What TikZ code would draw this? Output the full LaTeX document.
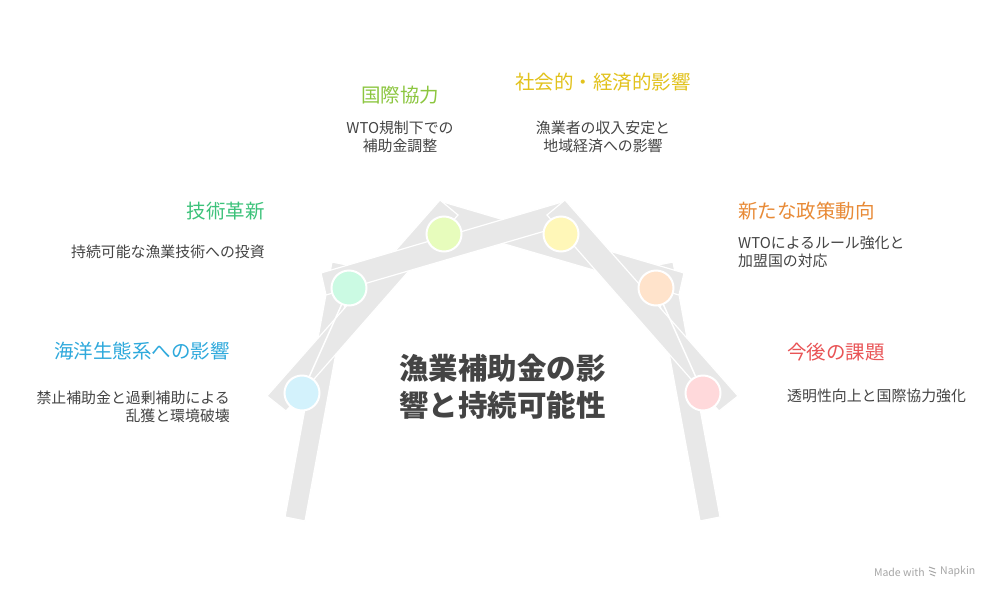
\documentclass[tikz,border=0pt]{standalone}
\usepackage{fontspec}
\setmainfont{Noto Sans CJK JP}
\definecolor{bandgray}{HTML}{E8E8E8}
\definecolor{txt}{HTML}{444444}
\definecolor{cBlue}{HTML}{2EA9DC}
\definecolor{cGreen}{HTML}{3CC27A}
\definecolor{cLime}{HTML}{8CC63F}
\definecolor{cYellow}{HTML}{E2C21C}
\definecolor{cOrange}{HTML}{E88A36}
\definecolor{cRed}{HTML}{E95456}
\definecolor{fBlue}{HTML}{D3F2FC}
\definecolor{fMint}{HTML}{CBFAE3}
\definecolor{fLime}{HTML}{E7FCBC}
\definecolor{fYellow}{HTML}{FFF7B8}
\definecolor{fPeach}{HTML}{FFE3CB}
\definecolor{fPink}{HTML}{FFD9DB}
\tikzset{
  band/.style={fill=bandgray, draw=white, line width=1.2pt, line join=miter},
  conn/.style={draw=white, line width=1.5pt},
  dot/.style={circle, minimum size=35pt, inner sep=0pt, draw=white, line width=2pt},
  head/.style={font=\fontsize{19.5}{24}\selectfont, inner sep=0pt},
  desc/.style={font=\fontsize{14.9}{18.5}\selectfont, text=txt, inner sep=0pt},
}
\begin{document}
\begin{tikzpicture}[x=1pt,y=-1pt]
\useasboundingbox (0,0) rectangle (1002,600);
\fill[white] (0,0) rectangle (1002,600);
% legs
\draw[band] (285,517) -- (305,521) -- (352,266) -- (332,262) -- cycle;
\draw[band] (720,517) -- (700,521) -- (653,266) -- (673,262) -- cycle;
% right shallow band
\draw[band] (684,273) -- (679,295) -- (436,224) -- (443,202) -- cycle;
% left diagonal band
\draw[band] (267,396) -- (286,411) -- (458,215) -- (440,200) -- cycle;
% left shallow band
\draw[band] (321,273) -- (326,295) -- (569,224) -- (562,202) -- cycle;
% right diagonal band
\draw[band] (738,396) -- (719,411) -- (547,215) -- (565,200) -- cycle;
% circle positions
\coordinate (p1) at (302,393);
\coordinate (p2) at (349,288);
\coordinate (p3) at (444,234);
\coordinate (p4) at (561,234);
\coordinate (p5) at (656,288);
\coordinate (p6) at (703,393);
\draw[conn] (p1) -- (p2);
\draw[conn] (p5) -- (p6);
\node[dot, fill=fBlue] (c1) at (p1) {};
\node[dot, fill=fMint] (c2) at (p2) {};
\node[dot, fill=fLime] (c3) at (p3) {};
\node[dot, fill=fYellow] (c4) at (p4) {};
\node[dot, fill=fPeach] (c5) at (p5) {};
\node[dot, fill=fPink] (c6) at (p6) {};
% title
\node[font=\fontsize{29.5}{37}\selectfont\bfseries, text=txt, align=center, inner sep=0pt] (title) at (502.5,387) {漁業補助金の影\\響と持続可能性};
% labels
\node[head, text=cBlue, anchor=east] (h1) at (230,351) {海洋生態系への影響};
\node[desc, anchor=east, align=right] (d1) at (230,407) {禁止補助金と過剰補助による\\乱獲と環境破壊};
\node[head, text=cGreen, anchor=east] (h2) at (265,211) {技術革新};
\node[desc, anchor=east] (d2) at (265,252) {持続可能な漁業技術への投資};
\node[head, text=cLime] (h3) at (400,95) {国際協力};
\node[desc, align=center] (d3) at (400,137) {WTO規制下での\\補助金調整};
\node[head, text=cYellow] (h4) at (603,82) {社会的・経済的影響};
\node[desc, align=center] (d4) at (603,137) {漁業者の収入安定と\\地域経済への影響};
\node[head, text=cOrange, anchor=west] (h5) at (738,211) {新たな政策動向};
\node[desc, anchor=west, align=left] (d5) at (738,252) {WTOによるルール強化と\\加盟国の対応};
\node[head, text=cRed, anchor=west] (h6) at (787,352) {今後の課題};
\node[desc, anchor=west] (d6) at (787,396) {透明性向上と国際協力強化};
% footer
\node[font=\fontsize{10.5}{12}\selectfont, text=gray!70, anchor=east, inner sep=0pt] (mw) at (925,572) {Made with};
\node[font=\fontsize{10.5}{12}\selectfont, text=gray!70, anchor=west, inner sep=0pt] (nap) at (940,572) {Napkin};
\draw[gray!70, line width=1pt] (929,567) -- (935,569) (929,570.5) -- (936,573) (930,574) -- (935,576);
\end{tikzpicture}
\end{document}
